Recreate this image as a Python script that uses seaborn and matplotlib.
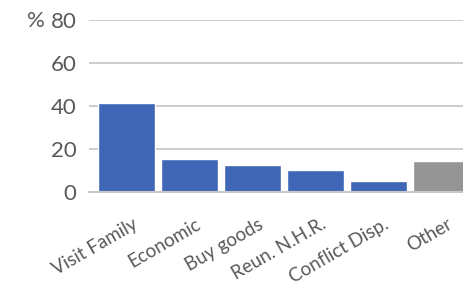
import matplotlib
matplotlib.use("Agg")
import matplotlib.pyplot as plt
import matplotlib.transforms as mtransforms
import seaborn as sns
import pandas as pd

# Data
categories = ["Visit Family", "Economic", "Buy goods", "Reun. N.H.R.", "Conflict Disp.", "Other"]
values = [41.5, 15.3, 12.6, 10.2, 5.3, 14.4]
bar_colors = ["#4066B6", "#4066B6", "#4066B6", "#4066B6", "#4066B6", "#959595"]
y_ticks = [0, 20, 40, 60, 80]

df = pd.DataFrame({"category": categories, "value": values})

sns.set_style("white")
plt.rcParams["font.family"] = ["Lato", "DejaVu Sans"]

fig = plt.figure(figsize=(4.64, 2.83), dpi=100)
ax = fig.add_axes([89 / 464, 91 / 283, 1 - 89 / 464, 172 / 283])

sns.barplot(data=df, x="category", y="value", hue="category",
            palette=bar_colors, legend=False, width=0.905, saturation=1, ax=ax)

ax.set_ylim(0, 80)
ax.set_xlim(-0.6, 5.36)
ax.set_yticks(y_ticks)
ax.yaxis.grid(True, color="#BFBFBF", linewidth=1.1)
ax.set_axisbelow(True)
for side in ["top", "right", "left"]:
    ax.spines[side].set_visible(False)
ax.spines["bottom"].set_color("#C8C8C8")
ax.spines["bottom"].set_linewidth(1.5)

ax.set_xlabel("")
ax.set_ylabel("")
ax.tick_params(axis="y", length=0, pad=9, labelsize=16, labelcolor="#595959")
ax.tick_params(axis="x", length=0, pad=17, labelsize=13.5, labelcolor="#595959")
shift = mtransforms.ScaledTranslation(5 / 100, 0, fig.dpi_scale_trans)
for lbl in ax.get_xticklabels():
    lbl.set_rotation(30)
    lbl.set_ha("right")
    lbl.set_rotation_mode("anchor")
    lbl.set_transform(lbl.get_transform() + shift)

fig.text(27 / 464, 1 - 21 / 283, "%", fontsize=16, color="#595959", va="center", ha="left")

fig.savefig("out.png", dpi=100)
